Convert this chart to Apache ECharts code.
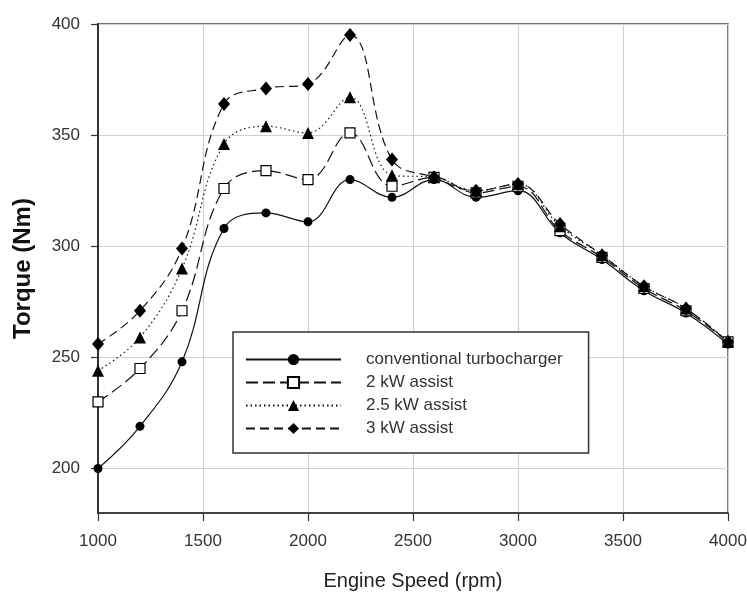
<!DOCTYPE html>
<html>
<head>
<meta charset="utf-8">
<script src="https://cdn.jsdelivr.net/npm/echarts@6/dist/echarts.min.js"></script>
<style>
html,body{margin:0;padding:0;background:#fff;}
#chart{width:747px;height:594px;}
</style>
</head>
<body>
<div id="chart"></div>
<script>
const speeds = [1000,1200,1400,1600,1800,2000,2200,2400,2600,2800,3000,3200,3400,3600,3800,4000];
const conventional = [200,219,248,308,315,311,330,322,330,322,325,306,294,280,270,256];
const assist2 = [230,245,271,326,334,330,351,327,331,324,327,307,295,281,271,257];
const assist25 = [244,259,290,346,354,351,367,332,331,325,328,309,296,282,272,257];
const assist3 = [256,271,299,364,371,373,395,339,331,325,328,310,296,282,272,257];
const seriesNames = ['conventional turbocharger','2 kW assist','2.5 kW assist','3 kW assist'];
const yTicks = [200,250,300,350,400];

function pairs(v){ return speeds.map((s,i)=>[s,v[i]]); }

const font = "'Liberation Sans', Arial, sans-serif";
const chart = echarts.init(document.getElementById('chart'));

function mk(name, data, symbol, size, fill, dash){
  return {
    name: name, type: 'line', data: pairs(data), smooth: 0.4,
    symbol: symbol, symbolSize: size,
    lineStyle: {color:'#111', width:1.2, type: dash},
    itemStyle: {color: fill, borderColor:'#000', borderWidth: fill==='#fff'?1.2:0},
    emphasis: {disabled:true}, z: 3
  };
}

chart.setOption({
  animation: false,
  backgroundColor: '#fff',
  grid: {left:98, right:19, top:24, bottom:81, containLabel:false, outerBoundsMode:'none',
         show:true, borderColor:'#444', borderWidth:1.5},
  legend: {
    orient:'vertical', left:233, top:332,
    padding:[18,26,15,12],
    backgroundColor:'#fff', borderColor:'#333', borderWidth:1.5,
    itemWidth:95, itemHeight:14, itemGap:4,
    textStyle:{fontFamily:font, fontSize:17, color:'#333', lineHeight:19, padding:[0,0,0,20]},
    data: seriesNames
  },
  xAxis: {
    type:'value', min:1000, max:4000, interval:500,
    name:'Engine Speed (rpm)', nameLocation:'middle', nameGap:58,
    nameTextStyle:{fontFamily:font, fontSize:20, color:'#222'},
    axisLine:{lineStyle:{color:'#333', width:1.5}},
    axisTick:{show:true, length:8, lineStyle:{color:'#333', width:1.2}},
    axisLabel:{fontFamily:font, fontSize:17, color:'#333', margin:20, formatter: v => String(v)},
    splitLine:{show:true, lineStyle:{color:'#d0d0d0', width:1.2}}
  },
  yAxis: {
    type:'value', min:180, max:400,
    name:'Torque (Nm)', nameLocation:'middle', nameGap:63, nameRotate:90,
    nameTextStyle:{fontFamily:font, fontSize:24, fontWeight:'bold', color:'#111'},
    axisLine:{show:true, lineStyle:{color:'#333', width:2}},
    axisTick:{show:true, length:7, customValues: yTicks, lineStyle:{color:'#333', width:1.2}},
    axisLabel:{fontFamily:font, fontSize:17, color:'#333', margin:18, customValues: yTicks, formatter: v => String(v)},
    splitLine:{show:true, lineStyle:{color:'#d0d0d0', width:1.2}}
  },
  series: [
    mk(seriesNames[0], conventional, 'circle', 9, '#000', 'solid'),
    mk(seriesNames[1], assist2, 'rect', 10, '#fff', [12,5]),
    mk(seriesNames[2], assist25, 'triangle', 12, '#000', [1.5,3]),
    mk(seriesNames[3], assist3, 'diamond', [12,14], '#000', [9,5])
  ]
});
</script>
</body>
</html>
